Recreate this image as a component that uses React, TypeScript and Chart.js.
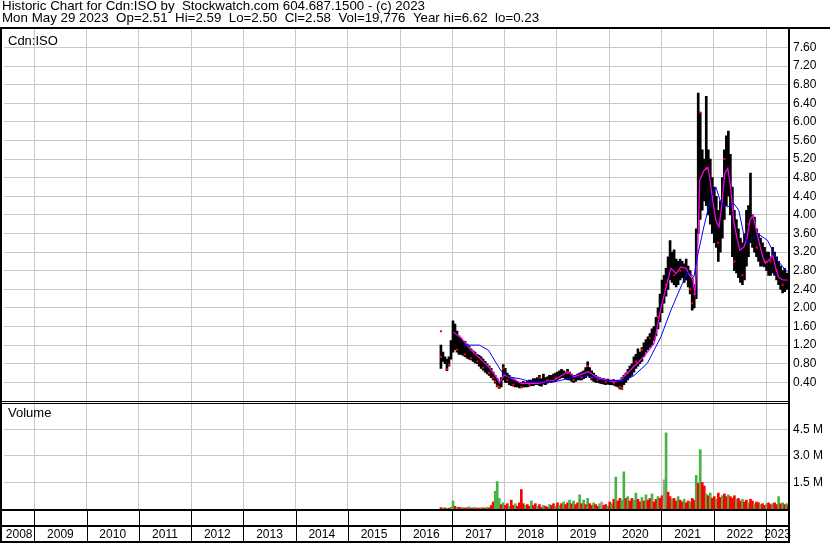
import React, { useEffect, useRef } from 'react';
import { Chart, registerables } from 'chart.js';

Chart.register(...registerables);

const FONT = "'Liberation Sans', Arial, sans-serif";

const HEADER = [
  'Historic Chart for Cdn:ISO by  Stockwatch.com 604.687.1500 - (c) 2023',
  'Mon May 29 2023  Op=2.51  Hi=2.59  Lo=2.50  Cl=2.58  Vol=19,776  Year hi=6.62  lo=0.23',
];
const PRICE_PANEL_LABEL = 'Cdn:ISO';
const VOLUME_PANEL_LABEL = 'Volume';

const YEARS = [2008, 2009, 2010, 2011, 2012, 2013, 2014, 2015, 2016, 2017, 2018, 2019, 2020, 2021, 2022, 2023];
const X_MIN = 2008.42;
const X_MAX = 2023.44;

const PRICE_MAX = 8.0;
const PRICE_TICKS = [0.4, 0.8, 1.2, 1.6, 2.0, 2.4, 2.8, 3.2, 3.6, 4.0, 4.4, 4.8, 5.2, 5.6, 6.0, 6.4, 6.8, 7.2, 7.6];
const VOLUME_MAX = 6.1; // millions
const VOLUME_TICKS = [1.5, 3.0, 4.5];

// bi-weekly periods starting Oct 2016
const BAR_START = 2016.78;
const BAR_STEP = 1 / 26;

const LOWS = [
  0.70, 0.85, 0.80, 0.65, 0.75, 0.90, 1.05, 1.10, 1.05, 1.00,
  1.00, 0.98, 0.95, 0.92, 0.90, 0.88, 0.85, 0.82, 0.80, 0.75,
  0.70, 0.66, 0.62, 0.58, 0.55, 0.50, 0.45, 0.38, 0.30, 0.27,
  0.30, 0.45, 0.40, 0.40, 0.35, 0.33, 0.32, 0.30, 0.30, 0.28,
  0.28, 0.30, 0.30, 0.30, 0.32, 0.33, 0.33, 0.35, 0.35, 0.33,
  0.32, 0.36, 0.35, 0.38, 0.40, 0.40, 0.42, 0.42, 0.45, 0.48,
  0.50, 0.50, 0.48, 0.45, 0.45, 0.42, 0.40, 0.42, 0.45, 0.45,
  0.45, 0.48, 0.50, 0.55, 0.50, 0.45, 0.42, 0.40, 0.40, 0.38,
  0.37, 0.36, 0.35, 0.36, 0.35, 0.35, 0.34, 0.32, 0.30, 0.26,
  0.25, 0.35, 0.40, 0.45, 0.50, 0.55, 0.62, 0.70, 0.75, 0.80,
  0.85, 0.95, 1.05, 1.10, 1.15, 1.20, 1.30, 1.40, 1.55, 1.70,
  1.90, 2.10, 2.25, 2.40, 2.60, 2.55, 2.50, 2.45, 2.50, 2.60,
  2.65, 2.55, 2.60, 2.45, 2.30, 1.95, 2.00, 2.20, 3.60, 3.90,
  4.10, 4.30, 4.20, 4.00, 3.80, 3.60, 3.40, 3.30, 3.00, 3.20,
  3.50, 3.90, 4.20, 4.40, 4.00, 3.10, 2.80, 2.75, 2.65, 2.55,
  2.50, 2.60, 2.90, 3.10, 3.40, 3.30, 3.20, 3.10, 3.00, 2.90,
  2.90, 2.88, 2.80, 2.70, 2.70, 2.75, 2.70, 2.60, 2.50, 2.40,
  2.32, 2.35, 2.40, 2.50,
];

const HIGHS = [
  1.20, 1.05, 0.95, 0.90, 0.95, 1.30, 1.72, 1.65, 1.50, 1.40,
  1.35, 1.30, 1.28, 1.22, 1.18, 1.12, 1.08, 1.05, 1.00, 0.98,
  0.95, 0.90, 0.85, 0.80, 0.75, 0.70, 0.62, 0.55, 0.48, 0.42,
  0.50, 0.78, 0.70, 0.60, 0.55, 0.50, 0.48, 0.45, 0.42, 0.40,
  0.40, 0.42, 0.40, 0.42, 0.45, 0.45, 0.48, 0.48, 0.50, 0.55,
  0.48, 0.58, 0.50, 0.52, 0.55, 0.55, 0.58, 0.60, 0.62, 0.65,
  0.68, 0.65, 0.62, 0.68, 0.62, 0.58, 0.55, 0.55, 0.58, 0.60,
  0.62, 0.65, 0.72, 0.84, 0.72, 0.65, 0.60, 0.55, 0.52, 0.50,
  0.48, 0.48, 0.46, 0.47, 0.45, 0.45, 0.46, 0.44, 0.45, 0.45,
  0.50, 0.55, 0.60, 0.68, 0.75, 0.80, 0.95, 1.00, 1.12, 1.05,
  1.15, 1.25, 1.32, 1.38, 1.45, 1.55, 1.60, 1.80, 2.00, 2.30,
  2.60, 2.70, 2.85, 3.10, 3.45, 3.20, 3.25, 3.05, 3.00, 3.05,
  3.00, 2.95, 3.05, 2.90, 2.80, 2.65, 2.50, 3.70, 6.62, 6.20,
  5.40, 5.20, 6.55, 5.40, 5.20, 4.80, 4.60, 4.40, 4.10, 4.30,
  4.80, 5.40, 5.70, 5.80, 5.30, 4.60, 4.10, 3.90, 3.70, 3.50,
  3.40, 3.60, 4.10, 4.20, 4.90, 4.00, 3.95, 3.70, 3.60, 3.50,
  3.40, 3.30, 3.20, 3.20, 3.10, 3.30, 3.20, 3.10, 3.00, 2.90,
  2.80, 2.85, 2.75, 2.65,
];

// red close markers: period index + price
const DOT_INDEX = [
  0, 0, 3, 4, 8, 12, 15, 18, 21, 24, 26, 27, 28, 29, 31, 33, 36, 40, 44, 49,
  53, 57, 63, 66, 70, 73, 75, 78, 82, 86, 89, 90, 93, 97, 100, 104, 108, 112, 116, 119,
  124, 125, 126, 129, 132, 135, 138, 141, 146, 150, 153, 157, 161, 164, 167, 170, 173,
];
const DOT_VALUE = [
  1.50, 0.95, 0.68, 0.78, 1.10, 1.00, 0.92, 0.85, 0.72, 0.60, 0.50, 0.42, 0.32, 0.30, 0.70, 0.45, 0.35, 0.30, 0.35, 0.50,
  0.45, 0.50, 0.60, 0.45, 0.50, 0.75, 0.50, 0.45, 0.40, 0.38, 0.30, 0.28, 0.60, 0.85, 1.10, 1.35, 1.80, 2.50, 2.70, 2.80,
  2.40, 2.10, 2.30, 6.20, 5.00, 4.40, 3.40, 5.20, 3.00, 2.70, 3.80, 3.30, 3.00, 3.00, 2.80, 2.50, 2.58,
];

// short moving average (magenta)
const MA_SHORT_T = [
  2017.02, 2017.17, 2017.36, 2017.52, 2017.69, 2017.84, 2017.90, 2017.99, 2018.13, 2018.32,
  2018.64, 2018.95, 2019.21, 2019.33, 2019.60, 2019.79, 2020.09, 2020.22, 2020.47, 2020.66,
  2020.86, 2020.99, 2021.09, 2021.18, 2021.28, 2021.37, 2021.47, 2021.52, 2021.60, 2021.64,
  2021.70, 2021.73, 2021.81, 2021.89, 2021.93, 2021.98, 2022.04, 2022.10, 2022.15, 2022.21,
  2022.27, 2022.33, 2022.38, 2022.44, 2022.50, 2022.58, 2022.64, 2022.69, 2022.75, 2022.80,
  2022.86, 2022.94, 2022.99, 2023.05, 2023.13, 2023.18, 2023.24, 2023.32, 2023.41,
];
const MA_SHORT_V = [
  1.48, 1.35, 1.09, 0.92, 0.74, 0.52, 0.39, 0.56, 0.49, 0.38,
  0.38, 0.45, 0.63, 0.52, 0.63, 0.49, 0.41, 0.45, 0.74, 0.95,
  1.24, 2.00, 2.45, 2.85, 2.74, 2.88, 2.85, 2.74, 2.60, 2.31,
  3.45, 4.74, 4.95, 5.02, 4.74, 4.31, 3.88, 3.74, 4.16, 4.89,
  5.00, 4.53, 3.88, 3.52, 3.24, 3.31, 3.52, 3.88, 3.99, 3.74,
  3.45, 3.09, 2.96, 3.02, 3.13, 2.88, 2.66, 2.60, 2.60,
];

// long moving average (blue)
const MA_LONG_T = [
  2017.23, 2017.52, 2017.69, 2017.84, 2017.94, 2018.07, 2018.32, 2018.51, 2018.95, 2019.28,
  2019.60, 2019.85, 2020.22, 2020.47, 2020.73, 2020.99, 2021.18, 2021.37, 2021.50, 2021.62,
  2021.70, 2021.81, 2021.95, 2022.04, 2022.14, 2022.27, 2022.38, 2022.48, 2022.57, 2022.65,
  2022.84, 2023.03, 2023.22, 2023.41,
];
const MA_LONG_V = [
  1.20, 1.20, 1.09, 0.81, 0.63, 0.52, 0.47, 0.41, 0.41, 0.50,
  0.54, 0.45, 0.43, 0.54, 0.81, 1.38, 1.95, 2.45, 2.77, 2.67,
  3.17, 3.74, 4.38, 4.60, 4.25, 4.17, 4.25, 4.10, 3.60, 3.39,
  3.60, 3.45, 3.02, 2.77,
];

// volume in millions, per bi-weekly period
const VOLUMES = [
  0.08, 0.05, 0.06, 0.04, 0.05, 0.10, 0.45, 0.15, 0.08, 0.10,
  0.06, 0.08, 0.05, 0.07, 0.12, 0.05, 0.06, 0.08, 0.05, 0.05,
  0.07, 0.06, 0.05, 0.10, 0.06, 0.20, 0.40, 1.00, 1.55, 0.60,
  0.25, 0.35, 0.20, 0.30, 0.15, 0.50, 0.20, 0.30, 0.15, 0.35,
  1.10, 0.30, 0.20, 0.25, 0.15, 0.45, 0.20, 0.30, 0.15, 0.25,
  0.10, 0.20, 0.15, 0.10, 0.25, 0.20, 0.30, 0.15, 0.35, 0.20,
  0.30, 0.40, 0.25, 0.35, 0.50, 0.30, 0.45, 0.25, 0.35, 0.80,
  0.30, 0.50, 0.25, 0.60, 0.30, 0.20, 0.35, 0.25, 0.15, 0.30,
  0.40, 0.20, 0.25, 0.15, 0.40, 0.30, 0.55, 1.80, 0.45, 0.60,
  0.50, 2.10, 0.60, 0.70, 0.45, 0.60, 0.50, 0.90, 0.55, 0.40,
  0.65, 0.45, 0.80, 0.50, 0.60, 0.85, 0.40, 0.55, 0.70, 0.60,
  0.75, 1.65, 4.30, 0.95, 0.70, 0.55, 0.60, 0.45, 0.70, 0.50,
  0.40, 0.55, 0.35, 0.45, 0.40, 0.60, 0.50, 1.90, 1.45, 3.35,
  1.50, 1.30, 0.85, 0.75, 0.90, 0.60, 0.70, 0.55, 0.90, 0.65,
  0.75, 0.85, 0.70, 0.80, 0.70, 0.60, 0.75, 0.55, 0.60, 0.45,
  0.55, 0.40, 0.50, 0.35, 0.55, 0.45, 0.30, 0.40, 0.35, 0.25,
  0.30, 0.20, 0.30, 0.35, 0.25, 0.30, 0.35, 0.25, 0.70, 0.30,
  0.35, 0.25, 0.30, 0.20,
];
// g = up, r = down, k = unchanged
const VOLUME_SIDE = [
  'rgrgrggrgr', 'rgrrgrrgrr', 'grrgrrrggg', 'rgrrgrrgrr', 'rrgrrgrrgr',
  'rgrrgrrgrg', 'rgrrgrgrrg', 'rgrgrrgrrg', 'krrgrgrgrr', 'ggrgrrggrr',
  'grgrrgrrgr', 'rkgrrgrrgr', 'rgrrgrrgrg', 'rrgrgrrgrr', 'grrgrrrgrr',
  'grrgrrgrrg', 'rrgrrgrrgr', 'grgr',
].join('');

const SIDE_COLORS: Record<string, string> = { g: '#44b544', r: '#ff0000', k: '#a0a0a0' };

const periodX = (i: number) => BAR_START + i * BAR_STEP;

const zeroPadding = (s: any) => {
  s.paddingLeft = 0;
  s.paddingRight = 0;
  s.paddingTop = 0;
  s.paddingBottom = 0;
};

const framePlugin = {
  id: 'stockwatchFrame',
  afterDraw(chart: any) {
    const { ctx, chartArea, scales } = chart;
    const W = chart.width;
    const H = chart.height;
    const R = Math.round(chartArea.right);
    const T = Math.round(chartArea.top);
    const B = Math.round(chartArea.bottom);
    const pb = Math.round(scales.y.bottom);
    ctx.save();
    ctx.fillStyle = '#000';
    ctx.fillRect(0, T - 2, W, 2);
    ctx.fillRect(0, T - 2, 2, H - T + 2);
    ctx.fillRect(R - 1, T - 2, 2, H - T + 2);
    ctx.fillRect(0, pb, R, 1);
    ctx.fillRect(0, pb + 2, R, 1);
    ctx.fillRect(0, B, R, 2);
    ctx.fillRect(0, B + 16, R, 2);
    ctx.fillRect(0, H - 2, R, 2);
    for (let k = 1; k < YEARS.length; k++) {
      const px = Math.round(scales.x.getPixelForValue(YEARS[k]));
      ctx.fillRect(px, B + 2, 1, H - B - 4);
    }
    ctx.font = `13px ${FONT}`;
    ctx.textBaseline = 'alphabetic';
    ctx.textAlign = 'left';
    ctx.fillText(PRICE_PANEL_LABEL, 8, T + 16);
    ctx.fillText(VOLUME_PANEL_LABEL, 8, Math.round(scales.yv.top) + 16);
    ctx.restore();
  },
};

export default function App() {
  const ref = useRef<HTMLCanvasElement | null>(null);

  useEffect(() => {
    const canvas = ref.current;
    if (!canvas) return;

    const priceBars = LOWS.map((lo, i) => ({ x: periodX(i), y: [lo, HIGHS[i]] }));
    const dots = DOT_INDEX.map((idx, k) => ({ x: periodX(idx), y: DOT_VALUE[k] }));
    const maShort = MA_SHORT_T.map((t, i) => ({ x: t, y: MA_SHORT_V[i] }));
    const maLong = MA_LONG_T.map((t, i) => ({ x: t, y: MA_LONG_V[i] }));
    const volBars = VOLUMES.map((v, i) => ({ x: periodX(i), y: v }));
    const volColors = VOLUMES.map((_, i) => SIDE_COLORS[VOLUME_SIDE[i]] || '#ff0000');

    const labelCenters = YEARS.map((y) => (Math.max(y, X_MIN) + Math.min(y + 1, X_MAX)) / 2);

    const chart = new Chart(canvas, {
      type: 'bar',
      data: {
        datasets: [
          {
            type: 'line',
            data: maLong,
            yAxisID: 'y',
            borderColor: '#0000ff',
            borderWidth: 1,
            pointRadius: 0,
            tension: 0,
            order: 0,
          } as any,
          {
            type: 'line',
            data: maShort,
            yAxisID: 'y',
            borderColor: '#ff00ff',
            borderWidth: 1.2,
            pointRadius: 0,
            tension: 0,
            order: 1,
          } as any,
          {
            type: 'line',
            data: dots,
            yAxisID: 'y',
            showLine: false,
            pointStyle: 'rect',
            pointRadius: 1.45,
            pointBackgroundColor: '#ff0000',
            pointBorderWidth: 0,
            order: 2,
          } as any,
          {
            type: 'bar',
            data: priceBars,
            yAxisID: 'y',
            backgroundColor: '#000000',
            borderWidth: 0,
            barThickness: 2,
            grouped: false,
            order: 3,
          } as any,
          {
            type: 'bar',
            data: volBars,
            yAxisID: 'yv',
            backgroundColor: volColors,
            borderWidth: 0,
            barThickness: 2,
            grouped: false,
            order: 4,
          } as any,
        ],
      },
      options: {
        animation: false,
        responsive: false,
        maintainAspectRatio: false,
        devicePixelRatio: 1,
        events: [],
        layout: { padding: { left: 2, right: 0, top: 0, bottom: 0 } },
        plugins: {
          legend: { display: false },
          tooltip: { enabled: false },
          title: {
            display: true,
            text: HEADER,
            align: 'start',
            color: '#000',
            font: { family: FONT, size: 13.33, weight: 'normal', lineHeight: 0.93 },
            padding: { top: 0, bottom: 4 },
          },
        },
        scales: {
          x: {
            type: 'linear',
            position: 'bottom',
            min: X_MIN,
            max: X_MAX,
            offset: false,
            grid: { color: '#c8c8c8', lineWidth: 1, drawTicks: false, offset: false },
            border: { display: false },
            ticks: { display: false },
            afterBuildTicks: (s: any) => {
              s.ticks = YEARS.slice(1).map((v) => ({ value: v }));
            },
            afterFit: (s: any) => {
              s.height = 0;
              zeroPadding(s);
            },
          },
          xl: {
            type: 'linear',
            position: 'bottom',
            min: X_MIN,
            max: X_MAX,
            offset: false,
            grid: { display: false, drawTicks: false, offset: false },
            border: { display: false },
            ticks: {
              autoSkip: false,
              maxRotation: 0,
              minRotation: 0,
              padding: 18,
              color: '#000',
              font: { family: FONT, size: 12 },
              callback: (_v: any, i: number) => String(YEARS[i]),
            },
            afterBuildTicks: (s: any) => {
              s.ticks = labelCenters.map((v) => ({ value: v }));
            },
            afterFit: (s: any) => {
              s.height = 34;
              zeroPadding(s);
            },
          },
          y: {
            type: 'linear',
            position: 'right',
            stack: 'panels',
            stackWeight: 372,
            min: 0,
            max: PRICE_MAX,
            grid: { color: '#c8c8c8', lineWidth: 1, drawTicks: false },
            border: { display: false },
            ticks: {
              autoSkip: false,
              padding: 4,
              color: '#000',
              font: { family: FONT, size: 12 },
              callback: (v: any) => Number(v).toFixed(2),
            },
            afterBuildTicks: (s: any) => {
              s.ticks = PRICE_TICKS.map((v) => ({ value: v }));
            },
            afterFit: (s: any) => {
              s.width = 41;
              zeroPadding(s);
            },
          },
          yv: {
            type: 'linear',
            position: 'right',
            stack: 'panels',
            stackWeight: 108,
            min: 0,
            max: VOLUME_MAX,
            grid: { color: '#c8c8c8', lineWidth: 1, drawTicks: false },
            border: { display: false },
            ticks: {
              autoSkip: false,
              padding: 4,
              color: '#000',
              font: { family: FONT, size: 12 },
              callback: (v: any) => `${Number(v).toFixed(1)} M`,
            },
            afterBuildTicks: (s: any) => {
              s.ticks = VOLUME_TICKS.map((v) => ({ value: v }));
            },
            afterFit: (s: any) => {
              s.width = 41;
              zeroPadding(s);
            },
          },
        },
      } as any,
      plugins: [framePlugin],
    });

    return () => chart.destroy();
  }, []);

  return (
    <div style={{ position: 'fixed', left: 0, top: 0, width: 830, height: 543, background: '#fff' }}>
      <canvas ref={ref} width={830} height={543} style={{ display: 'block' }} />
    </div>
  );
}
